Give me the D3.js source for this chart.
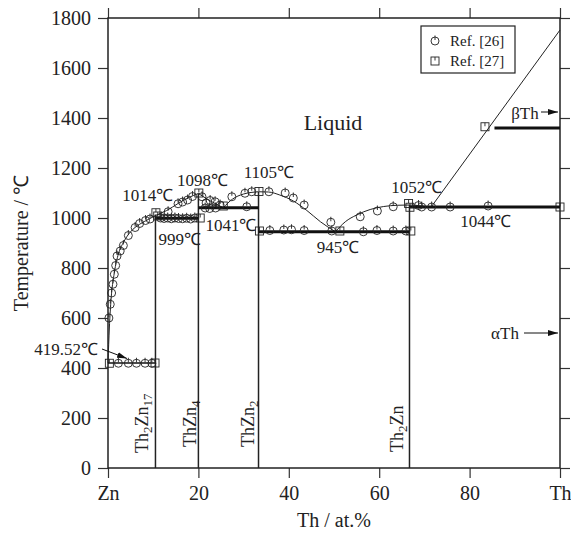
<!DOCTYPE html>
<html><head><meta charset="utf-8">
<script src="https://cdn.jsdelivr.net/npm/d3@7"></script>
<style>
body{margin:0;background:#fff;}
text{font-family:"Liberation Serif","Times New Roman",serif;fill:#222;}
</style></head>
<body><svg id="c" width="571" height="539"></svg>
<script>
// ---- data ----
const xTicks = [0, 20, 40, 60, 80, 100];
const xTickLabels = ["Zn", "20", "40", "60", "80", "Th"];
const yTicks = [0, 200, 400, 600, 800, 1000, 1200, 1400, 1600, 1800];

// liquidus segments [at.% Th, T]
const liq1 = [[0,419.5],[0.3,560],[0.7,680],[1.3,770],[2.2,850],[3.5,905],[5,945],[7,975],[9,995],[10.5,1010],[13,1030],[15.5,1058],[18,1083],[20,1098]];
const liq2 = [[20,1098],[22,1075],[24,1055],[25.5,1041]];
const liq3 = [[25.5,1041],[27.5,1075],[30,1096],[33.3,1105]];
const liq4 = [[33.3,1105],[35.5,1104],[38,1092],[41,1068],[44,1030],[47,985],[50.3,945]];
const liq5 = [[50.3,945],[52.5,985],[55,1012],[58,1034],[61,1046],[64,1051],[66.7,1052],[69,1049],[71.5,1044]];
const liq6 = [[71.5,1044],[100,1752]];

// invariant horizontal lines [x1, x2, T]
const invariants = [[0,10.5,419.52],[10.5,20,999],[20,33.3,1041],[33.3,66.7,945],[66.7,100,1044],[85.5,100,1360]];
// compounds [x, Tmax]
const compounds = [[10.5,1014],[20,1098],[33.3,1105],[66.7,1052]];

const ref26 = [[0.2,600],[0.5,655],[0.8,700],[1.1,735],[1.4,775],[1.7,810],[2.0,848],[2.7,868],[3.4,890],[4.5,930],[6.0,962],[7.0,978],[8.3,990],[9.3,996],
 [2.3,419],[4.5,419],[6.3,419],[8.2,419],[9.7,419],
 [11.6,1000],[12.4,998],[13.2,1000],[14.0,997],[14.8,1000],[15.6,998],[16.5,997],[17.4,999],[18.3,996],[19.2,1000],
 [13.3,1025],[15.5,1057],[16.5,1064],[17.6,1072],[18.7,1086],
 [20.8,1085],[21.7,1060],[22.6,1070],[23.7,1065],[24.8,1052],[21.5,1040],[22.5,1038],[23.8,1040],[27.4,1085],[30.3,1099],[30.7,1045],[31.8,1105],
 [35.6,1105],[39.2,1100],[41.0,1080],[43.4,1052],[49.3,983],
 [35.8,950],[38.9,952],[40.6,953],[43.4,950],[49.5,948],[56.5,945],[59.5,950],[63.1,948],[65.9,948],
 [55.8,1005],[59.6,1028],[63.1,1045],
 [68.7,1050],[69.4,1044],[71.6,1044],[75.7,1044],[84.1,1048]];
const ref27 = [[0.3,419],[10.4,420],[10.6,1021],[11.0,1008],[20.1,1100],[20.4,1000],[25.5,1048],[33.4,1106],[33.5,948],[51.3,948],[66.5,1058],[66.8,1043],[67.0,948],[83.4,1365],[100,1044]];

const tempLabels = [["1014℃",8.8,1068],["1098℃",20.9,1128],["1105℃",35.6,1160],["999℃",15.9,892],["1041℃",27.2,948],["945℃",50.9,860],["1052℃",68.3,1100],["1044℃",83.6,964]];

// ---- drawing ----
const svg = d3.select("#c");
const x = d3.scaleLinear().domain([0,100]).range([108,560]);
const y = d3.scaleLinear().domain([0,1800]).range([468,18]);

// axes
const gB = svg.append("g").attr("transform","translate(0,468)")
  .call(d3.axisBottom(x).tickValues(xTicks).tickFormat((d,i)=>xTickLabels[i]).tickSize(10).tickPadding(8));
const gL = svg.append("g").attr("transform","translate(108,0)")
  .call(d3.axisLeft(y).tickValues(yTicks).tickFormat(d3.format("d")).tickSize(10).tickPadding(7));
const gT = svg.append("g").attr("transform","translate(0,18)")
  .call(d3.axisTop(x).tickValues(xTicks).tickFormat("").tickSize(10));
const gR = svg.append("g").attr("transform","translate(560,0)")
  .call(d3.axisRight(y).tickValues(yTicks).tickFormat("").tickSize(10));
[gB,gL,gT,gR].forEach(g=>{
  g.select(".domain").remove();
  g.selectAll(".tick line").attr("stroke","#333").attr("stroke-width",1.2);
  g.selectAll(".tick text").style("font-family","Liberation Serif").style("font-size","20px").attr("fill","#222");
});
svg.append("rect").attr("x",108).attr("y",18).attr("width",452).attr("height",450)
  .attr("fill","none").attr("stroke","#222").attr("stroke-width",1.5);

// liquidus
const line = d3.line().x(d=>x(d[0])).y(d=>y(d[1])).curve(d3.curveMonotoneX);
[liq1,liq2,liq3,liq4,liq5,liq6].forEach(s=>{
  svg.append("path").attr("d", line(s)).attr("fill","none").attr("stroke","#222").attr("stroke-width",1);
});

// compounds
compounds.forEach(c=>{
  svg.append("line").attr("x1",x(c[0])).attr("x2",x(c[0])).attr("y1",y(0)).attr("y2",y(c[1]))
    .attr("stroke","#222").attr("stroke-width",1.5);
});
// invariants
invariants.forEach((v,i)=>{
  svg.append("line").attr("x1",x(v[0])).attr("x2",x(v[1])).attr("y1",y(v[2])).attr("y2",y(v[2]))
    .attr("stroke","#111").attr("stroke-width", i===0 ? 1.5 : 3);
});

// markers
function circ(g,cx,cy){
  g.append("circle").attr("cx",cx).attr("cy",cy).attr("r",4).attr("fill","none").attr("stroke","#222").attr("stroke-width",0.9);
  g.append("line").attr("x1",cx).attr("x2",cx).attr("y1",cy-5.5).attr("y2",cy-1).attr("stroke","#222").attr("stroke-width",0.9);
}
function sq(g,cx,cy){
  g.append("rect").attr("x",cx-4).attr("y",cy-4).attr("width",8).attr("height",8).attr("fill","none").attr("stroke","#222").attr("stroke-width",0.9);
  g.append("line").attr("x1",cx).attr("x2",cx).attr("y1",cy-4).attr("y2",cy-0.5).attr("stroke","#222").attr("stroke-width",0.9);
}
const gm = svg.append("g");
ref26.forEach(d=>circ(gm,x(d[0]),y(d[1])));
ref27.forEach(d=>sq(gm,x(d[0]),y(d[1])));

// temperature labels
tempLabels.forEach(t=>{
  svg.append("text").attr("x",x(t[1])).attr("y",y(t[2])).attr("text-anchor","middle")
    .style("font-size","17px").text(t[0]);
});
// 419.52 label with arrow
svg.append("defs").append("marker").attr("id","ah").attr("viewBox","0 0 10 6").attr("refX",10).attr("refY",3)
  .attr("markerWidth",10).attr("markerHeight",6).attr("markerUnits","userSpaceOnUse").attr("orient","auto")
  .append("path").attr("d","M0,0L10,3L0,6Z").attr("fill","#111");
svg.append("text").attr("x",98).attr("y",355).attr("text-anchor","end").style("font-size","17px").text("419.52℃");
svg.append("line").attr("x1",102).attr("y1",349).attr("x2",127).attr("y2",358.5).attr("stroke","#111").attr("stroke-width",1).attr("marker-end","url(#ah)");

svg.append("text").attr("x",333).attr("y",130).attr("text-anchor","middle").style("font-size","22px").text("Liquid");
svg.append("text").attr("x",525).attr("y",119).attr("text-anchor","middle").style("font-size","17px").text("βTh");
svg.append("line").attr("x1",541).attr("y1",112).attr("x2",558).attr("y2",112).attr("stroke","#111").attr("stroke-width",1).attr("marker-end","url(#ah)");
svg.append("text").attr("x",505).attr("y",339).attr("text-anchor","middle").style("font-size","17px").text("αTh");
svg.append("line").attr("x1",524).attr("y1",333).attr("x2",558).attr("y2",333).attr("stroke","#111").attr("stroke-width",1).attr("marker-end","url(#ah)");

// compound names (vertical)
const compNames = [[148,453,"Th","2","Zn","17"],[196,447,"ThZn","4","",""],[254,447,"ThZn","2","",""],[403,452,"Th","2","Zn",""]];
compNames.forEach(c=>{
  const t = svg.append("text").attr("transform",`translate(${c[0]},${c[1]}) rotate(-90)`).style("font-size","18px");
  t.append("tspan").text(c[2]);
  if(c[3]) t.append("tspan").attr("dy",4).style("font-size","13px").text(c[3]);
  if(c[4]) t.append("tspan").attr("dy",c[3]?-4:0).text(c[4]);
  if(c[5]) t.append("tspan").attr("dy",4).style("font-size","13px").text(c[5]);
});

// axis titles
svg.append("text").attr("transform","translate(28,243) rotate(-90)").attr("text-anchor","middle").style("font-size","20px").text("Temperature / ℃");
svg.append("text").attr("x",334).attr("y",527).attr("text-anchor","middle").style("font-size","20px").text("Th / at.%");

// legend
svg.append("rect").attr("x",421).attr("y",26).attr("width",94).attr("height",47).attr("fill","#fff").attr("stroke","#222").attr("stroke-width",1.2);
circ(svg,435,41); sq(svg,435,61);
svg.append("text").attr("x",450).attr("y",46).style("font-size","15px").text("Ref. [26]");
svg.append("text").attr("x",450).attr("y",66).style("font-size","15px").text("Ref. [27]");
</script></body></html>
